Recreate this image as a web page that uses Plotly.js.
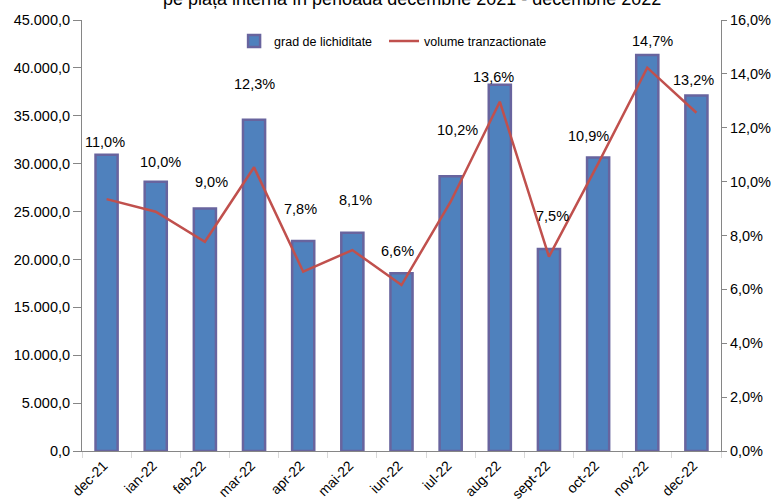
<!DOCTYPE html>
<html>
<head>
<meta charset="utf-8">
<script src="https://cdn.plot.ly/plotly-3.0.1.min.js"></script>
<style>
  html, body { margin: 0; padding: 0; background: #ffffff; }
  #chart { width: 778px; height: 500px; }
</style>
</head>
<body>
<div id="chart"></div>
<script>
// Data
const categories = ["dec-21","ian-22","feb-22","mar-22","apr-22","mai-22","iun-22","iul-22","aug-22","sept-22","oct-22","nov-22","dec-22"];
const gradLichiditate = [0.110,0.100,0.090,0.123,0.078,0.081,0.066,0.102,0.136,0.075,0.109,0.147,0.132];
const volumeTranzactionate = [26300,24980,21850,29620,18720,20980,17330,26030,36470,20290,30000,40020,35320];
const leftTicks = [0,5000,10000,15000,20000,25000,30000,35000,40000,45000];
const rightTicks = [0,0.02,0.04,0.06,0.08,0.10,0.12,0.14,0.16];
const titleText = "pe piața internă în perioada decembrie 2021 - decembrie 2022";
// label placement offsets (px) mimicking the hand-placed labels
const labelYShift = [3,10,17,26,22,23,12,36,-2,23,11,4,5];
const labelXShift = [-2,5,7,0,-3,3,-4,7,-6,4,-10,5,-3];

const FONT = "'Liberation Sans', Arial, Helvetica, sans-serif";

const barTrace = {
  type: "bar",
  name: "grad de lichiditate\u00A0\u00A0",
  x: categories,
  y: gradLichiditate,
  yaxis: "y",
  marker: { color: "#4F81BD", line: { color: "rgb(104,100,158)", width: 2.5 } },
  hoverinfo: "skip"
};

const lineTrace = {
  type: "scatter",
  mode: "lines",
  name: "volume tranzactionate",
  x: categories,
  y: volumeTranzactionate,
  yaxis: "y2",
  line: { color: "#C0504D", width: 2.5 },
  hoverinfo: "skip"
};

const annotations = categories.map((c, i) => ({
  x: c, y: gradLichiditate[i], xref: "x", yref: "y",
  text: (gradLichiditate[i] * 100).toFixed(1).replace(".", ",") + "%",
  showarrow: false, yanchor: "bottom", xanchor: "center",
  yshift: labelYShift[i], xshift: labelXShift[i],
  font: { family: FONT, size: 14.5, color: "#000000" }
}));

annotations.push({
  xref: "paper", yref: "paper", x: 0.516, y: 1.0487,
  xanchor: "center", yanchor: "middle",
  text: titleText, showarrow: false,
  font: { family: FONT, size: 18, color: "#000000" }
});

const layout = {
  width: 778, height: 500,
  margin: { l: 82, r: 57, t: 20, b: 49, pad: 0 },
  paper_bgcolor: "#ffffff", plot_bgcolor: "rgba(0,0,0,0)",
  separators: ",.",
  font: { family: FONT, size: 14, color: "#000000" },
  bargap: 0.55,
  showlegend: true,
  legend: {
    orientation: "h", x: 0.238, y: 0.985, xanchor: "left", yanchor: "top",
    bgcolor: "rgba(0,0,0,0)", font: { family: FONT, size: 12.5, color: "#000000" },
    itemwidth: 30, traceorder: "normal"
  },
  xaxis: {
    type: "category",
    tickangle: -45,
    tickson: "boundaries",
    ticks: "outside", ticklen: 6, tickcolor: "#d9d9d9", tickwidth: 1,
    ticklabelshift: -3,
    showline: true, linecolor: "#868686", linewidth: 1,
    showgrid: false, zeroline: false,
    tickfont: { family: FONT, size: 14, color: "#000000" },
    fixedrange: true
  },
  yaxis: {
    side: "right",
    range: [0, 0.16],
    tickvals: rightTicks,
    tickformat: ".1%",
    ticks: "outside", ticklen: 5, tickcolor: "#868686",
    showline: true, linecolor: "#868686", linewidth: 1,
    showgrid: false, zeroline: false,
    tickfont: { family: FONT, size: 14.5, color: "#000000" },
    fixedrange: true
  },
  yaxis2: {
    overlaying: "y",
    side: "left",
    range: [0, 45000],
    tickvals: leftTicks,
    tickformat: ",.1f",
    ticks: "outside", ticklen: 8, tickcolor: "#868686",
    showline: true, linecolor: "#868686", linewidth: 1,
    showgrid: false, zeroline: false,
    tickfont: { family: FONT, size: 14.5, color: "#000000" },
    fixedrange: true
  },
  annotations: annotations
};

Plotly.newPlot("chart", [barTrace, lineTrace], layout, { displayModeBar: false, staticPlot: true });
</script>
</body>
</html>
